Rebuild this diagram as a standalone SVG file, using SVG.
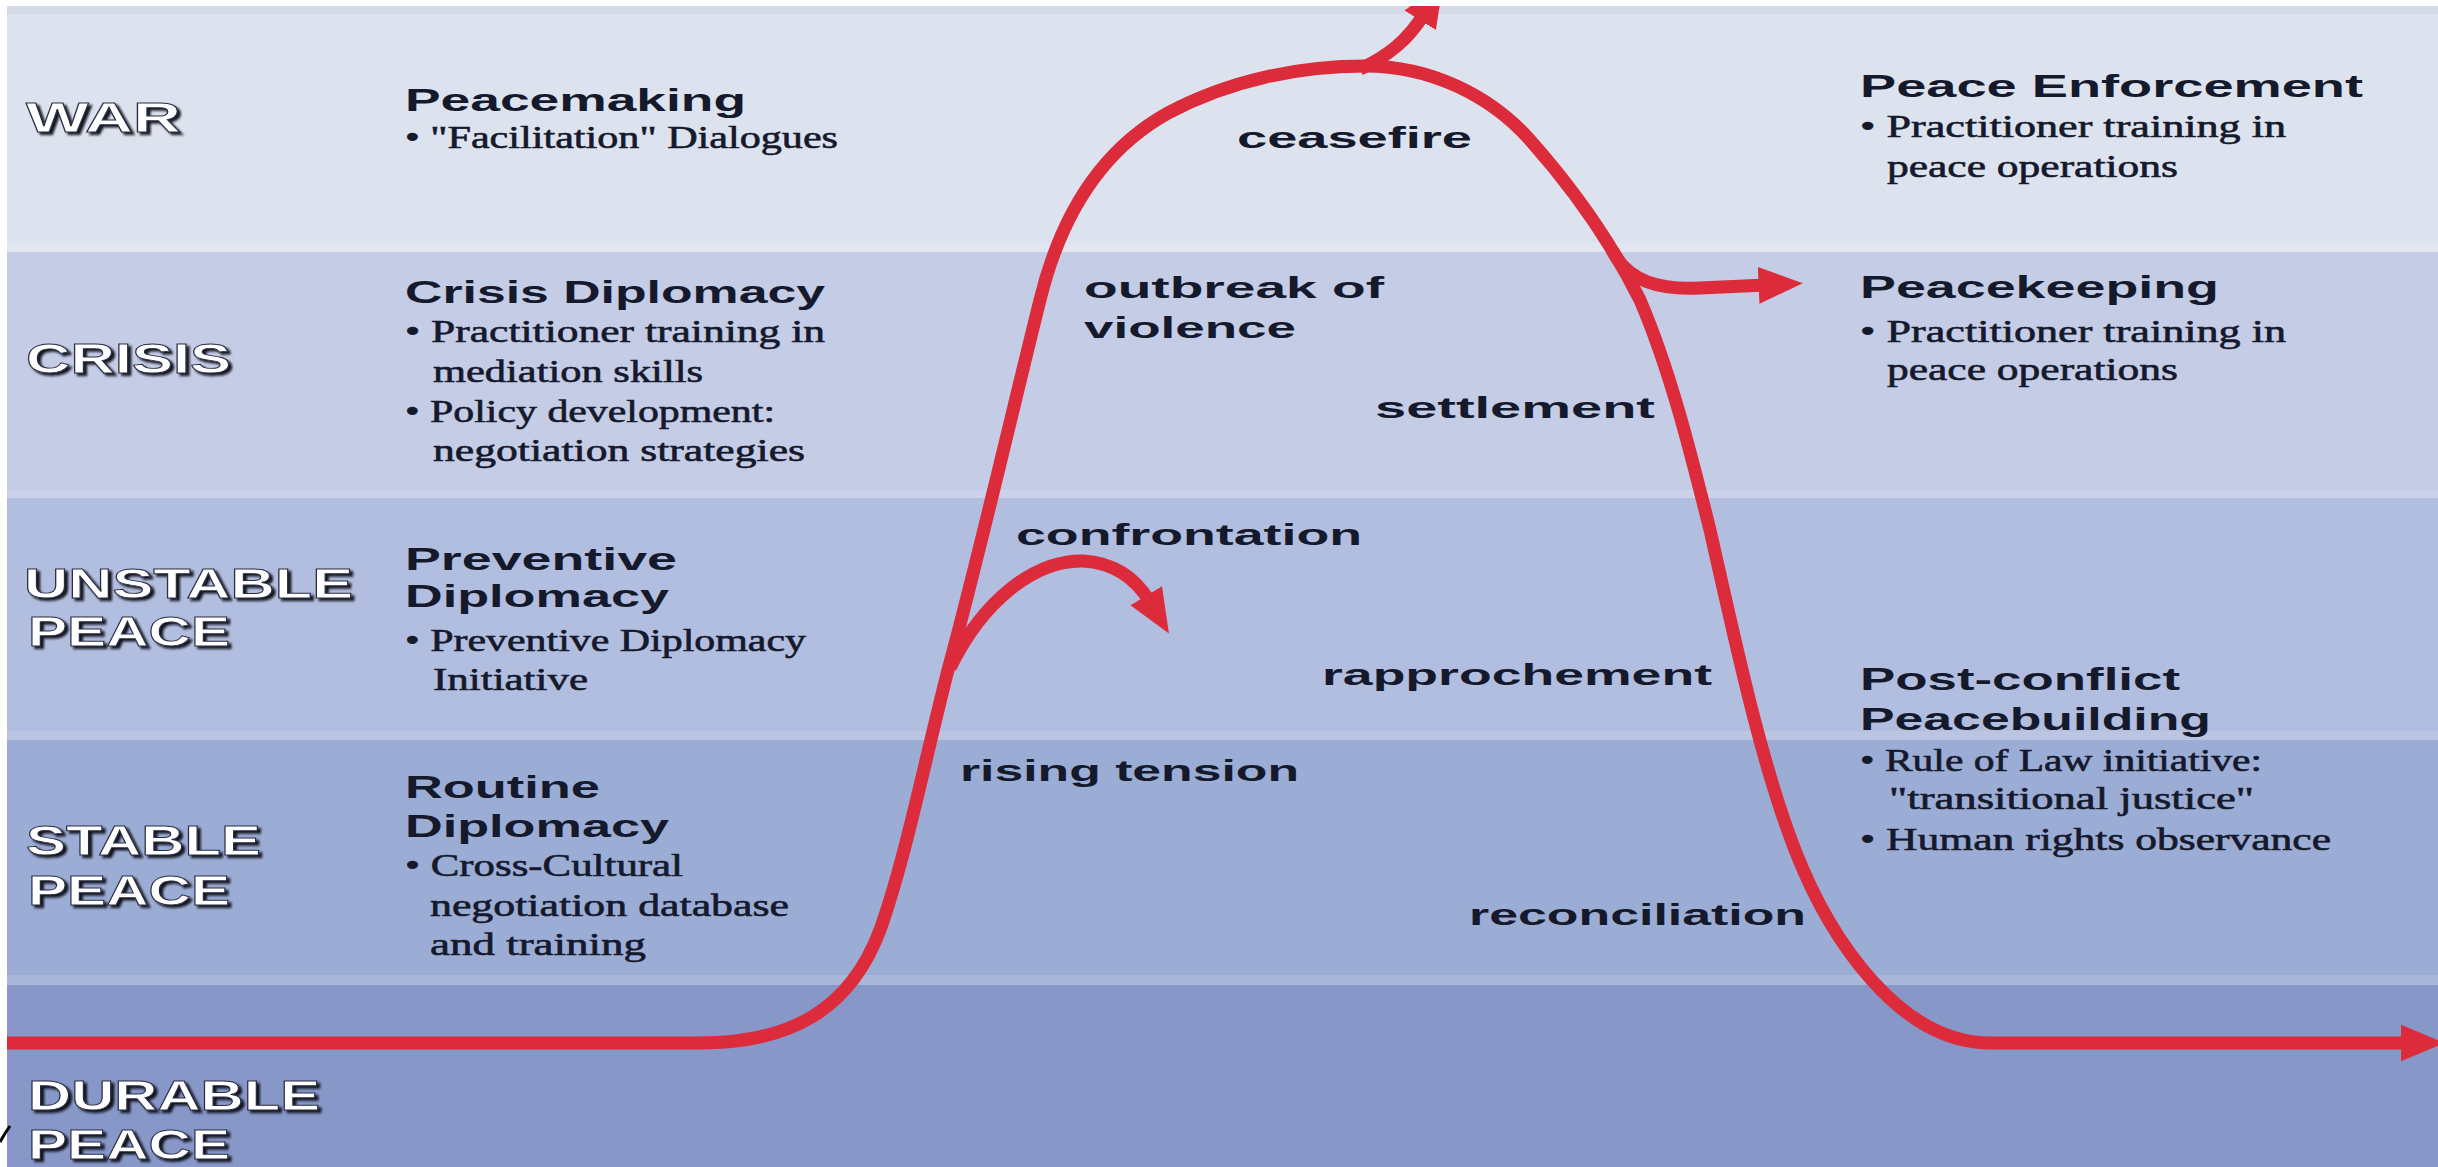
<svg xmlns="http://www.w3.org/2000/svg" width="2438" height="1167" viewBox="0 0 2438 1167">
<defs>
<style>
.lbl{font-family:"Liberation Sans",Arial,sans-serif;font-weight:bold;font-size:43px;fill:#ffffff;stroke:#2a2e44;stroke-width:0.9;filter:url(#emb)}
.hd{font-family:"Liberation Sans",Arial,sans-serif;font-weight:bold;font-size:31px;fill:#15192c}
.tx{font-family:"Liberation Serif","Times New Roman",serif;font-size:31px;fill:#15192c;stroke:#15192c;stroke-width:0.6}
.cv{font-family:"Liberation Sans",Arial,sans-serif;font-weight:bold;font-size:30px;fill:#15192c}
.line{fill:none;stroke:#dc2b3b;stroke-width:13;stroke-linecap:butt;stroke-linejoin:round}
.hl{opacity:0.12;fill:#ffffff}
</style>
<filter id="emb" x="-10%" y="-30%" width="130%" height="170%">
<feDropShadow dx="3" dy="2.5" stdDeviation="0.8" flood-color="#080b18" flood-opacity="0.95"/>
</filter>
<marker id="ah" viewBox="0 0 12 10" refX="2" refY="5" markerWidth="3.4" markerHeight="3" markerUnits="strokeWidth" orient="auto">
<path d="M0,0 L12,5 L0,10 z" fill="#dc2b3b"/>
</marker>
</defs>

<g id="bands">
<rect x="0" y="0" width="2438" height="1167" fill="#ffffff"/>
<rect x="7" y="6" width="2431" height="246" fill="#dde3ee"/>
<rect x="7" y="6" width="2431" height="8" fill="#d4dae5"/>
<rect x="7" y="243" width="2431" height="9" class="hl"/>
<rect x="7" y="252" width="2431" height="246" fill="#c5cce6"/>
<rect x="7" y="490" width="2431" height="8" class="hl"/>
<rect x="7" y="498" width="2431" height="242" fill="#b2bedf"/>
<rect x="7" y="731" width="2431" height="9" class="hl"/>
<rect x="7" y="740" width="2431" height="245" fill="#9cadd5"/>
<rect x="7" y="975" width="2431" height="10" class="hl"/>
<rect x="7" y="985" width="2431" height="182" fill="#8697c8"/>
</g>

<g id="level-labels">
<text class="lbl" x="26" y="132" textLength="155" lengthAdjust="spacingAndGlyphs">WAR</text>
<text class="lbl" x="26" y="373" textLength="205" lengthAdjust="spacingAndGlyphs">CRISIS</text>
<text class="lbl" x="24" y="598" textLength="329" lengthAdjust="spacingAndGlyphs">UNSTABLE</text>
<text class="lbl" x="28" y="646" textLength="202" lengthAdjust="spacingAndGlyphs">PEACE</text>
<text class="lbl" x="26" y="855" textLength="235" lengthAdjust="spacingAndGlyphs">STABLE</text>
<text class="lbl" x="28" y="905" textLength="202" lengthAdjust="spacingAndGlyphs">PEACE</text>
<text class="lbl" x="28" y="1110" textLength="292" lengthAdjust="spacingAndGlyphs">DURABLE</text>
<text class="lbl" x="28" y="1159" textLength="202" lengthAdjust="spacingAndGlyphs">PEACE</text>
</g>

<g id="connectors">
<path class="line" d="M7,1043 L700,1043 C790,1043 850,1010 880,930 C905,860 925,760 948,670 C978,560 1015,400 1040,300 C1062,210 1105,148 1168,113 C1230,80 1300,66 1365,66 C1430,66 1490,95 1530,140 C1570,185 1610,240 1640,300 C1670,370 1690,450 1710,530 C1735,640 1760,760 1795,850 C1830,940 1900,1043 1990,1043 L2408,1043" marker-end="url(#ah)"/>
<path class="line" d="M1360,69 C1388,56 1408,40 1424,14" marker-end="url(#ah)"/>
<path class="line" d="M1612,250 C1628,282 1660,290 1700,288 L1766,285" marker-end="url(#ah)"/>
<path class="line" d="M950,668 C983,600 1035,560 1083,561 C1118,563 1138,582 1150,602" marker-end="url(#ah)"/>
</g>

<g id="node-peacemaking">
<text class="hd" x="405" y="111" textLength="341" lengthAdjust="spacingAndGlyphs">Peacemaking</text>
<text class="tx" x="405" y="148" textLength="433" lengthAdjust="spacingAndGlyphs">• "Facilitation" Dialogues</text>
</g>
<g id="node-crisis-diplomacy">
<text class="hd" x="405" y="303" textLength="420" lengthAdjust="spacingAndGlyphs">Crisis Diplomacy</text>
<text class="tx" x="405" y="342" textLength="420" lengthAdjust="spacingAndGlyphs">• Practitioner training in</text>
<text class="tx" x="433" y="382" textLength="270" lengthAdjust="spacingAndGlyphs">mediation skills</text>
<text class="tx" x="405" y="422" textLength="370" lengthAdjust="spacingAndGlyphs">• Policy development:</text>
<text class="tx" x="433" y="461" textLength="372" lengthAdjust="spacingAndGlyphs">negotiation strategies</text>
</g>
<g id="node-preventive-diplomacy">
<text class="hd" x="405" y="570" textLength="272" lengthAdjust="spacingAndGlyphs">Preventive</text>
<text class="hd" x="405" y="607" textLength="264" lengthAdjust="spacingAndGlyphs">Diplomacy</text>
<text class="tx" x="405" y="651" textLength="401" lengthAdjust="spacingAndGlyphs">• Preventive Diplomacy</text>
<text class="tx" x="433" y="690" textLength="155" lengthAdjust="spacingAndGlyphs">Initiative</text>
</g>
<g id="node-routine-diplomacy">
<text class="hd" x="405" y="798" textLength="195" lengthAdjust="spacingAndGlyphs">Routine</text>
<text class="hd" x="405" y="837" textLength="264" lengthAdjust="spacingAndGlyphs">Diplomacy</text>
<text class="tx" x="405" y="876" textLength="278" lengthAdjust="spacingAndGlyphs">• Cross-Cultural</text>
<text class="tx" x="430" y="916" textLength="359" lengthAdjust="spacingAndGlyphs">negotiation database</text>
<text class="tx" x="430" y="955" textLength="216" lengthAdjust="spacingAndGlyphs">and training</text>
</g>

<g id="node-peace-enforcement">
<text class="hd" x="1860" y="97" textLength="503" lengthAdjust="spacingAndGlyphs">Peace Enforcement</text>
<text class="tx" x="1860" y="137" textLength="426" lengthAdjust="spacingAndGlyphs">• Practitioner training in</text>
<text class="tx" x="1887" y="177" textLength="291" lengthAdjust="spacingAndGlyphs">peace operations</text>
</g>
<g id="node-peacekeeping">
<text class="hd" x="1860" y="298" textLength="359" lengthAdjust="spacingAndGlyphs">Peacekeeping</text>
<text class="tx" x="1860" y="342" textLength="426" lengthAdjust="spacingAndGlyphs">• Practitioner training in</text>
<text class="tx" x="1887" y="380" textLength="291" lengthAdjust="spacingAndGlyphs">peace operations</text>
</g>
<g id="node-post-conflict">
<text class="hd" x="1860" y="690" textLength="320" lengthAdjust="spacingAndGlyphs">Post-conflict</text>
<text class="hd" x="1860" y="730" textLength="351" lengthAdjust="spacingAndGlyphs">Peacebuilding</text>
<text class="tx" x="1860" y="771" textLength="402" lengthAdjust="spacingAndGlyphs">• Rule of Law initiative:</text>
<text class="tx" x="1889" y="809" textLength="365" lengthAdjust="spacingAndGlyphs">"transitional justice"</text>
<text class="tx" x="1860" y="850" textLength="471" lengthAdjust="spacingAndGlyphs">• Human rights observance</text>
</g>

<g id="curve-labels">
<text class="cv" x="1237" y="148" textLength="235" lengthAdjust="spacingAndGlyphs">ceasefire</text>
<text class="cv" x="1084" y="298" textLength="300" lengthAdjust="spacingAndGlyphs">outbreak of</text>
<text class="cv" x="1084" y="338" textLength="212" lengthAdjust="spacingAndGlyphs">violence</text>
<text class="cv" x="1375" y="418" textLength="280" lengthAdjust="spacingAndGlyphs">settlement</text>
<text class="cv" x="1016" y="545" textLength="346" lengthAdjust="spacingAndGlyphs">confrontation</text>
<text class="cv" x="1322" y="685" textLength="390" lengthAdjust="spacingAndGlyphs">rapprochement</text>
<text class="cv" x="960" y="781" textLength="339" lengthAdjust="spacingAndGlyphs">rising tension</text>
<text class="cv" x="1469" y="925" textLength="337" lengthAdjust="spacingAndGlyphs">reconciliation</text>
</g>

<g id="frame">
<rect x="0" y="0" width="2438" height="6" fill="#ffffff"/>
<rect x="0" y="0" width="7" height="1120" fill="#ffffff"/>
<path d="M0,1142 Q5,1133 10,1126" fill="none" stroke="#000000" stroke-width="3"/>
</g>
</svg>
